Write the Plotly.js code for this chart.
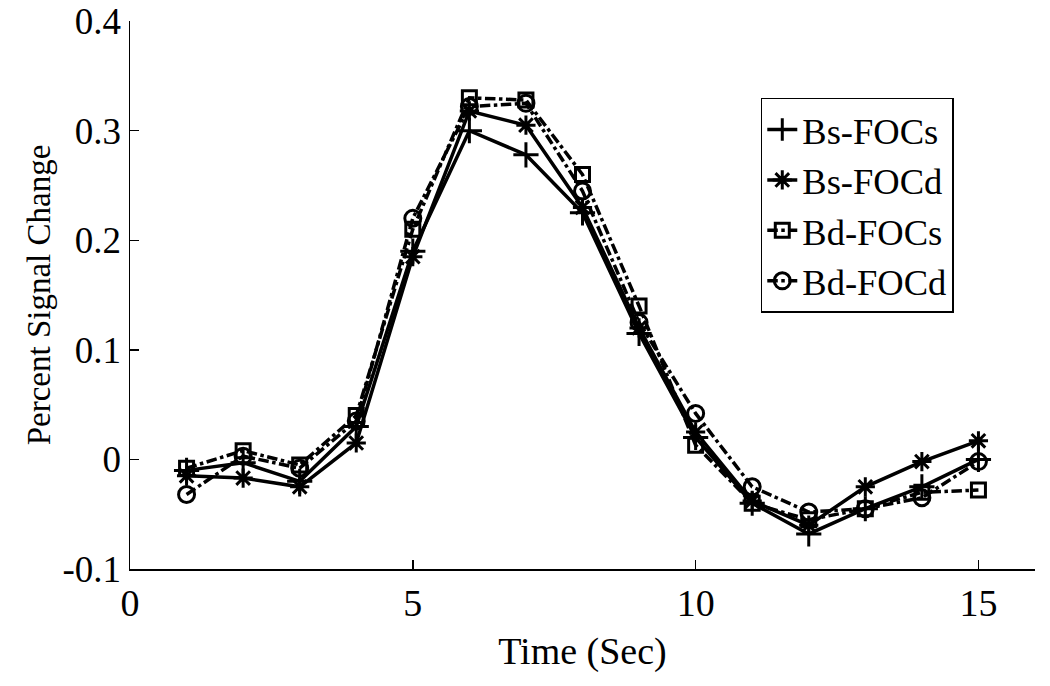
<!DOCTYPE html>
<html><head><meta charset="utf-8">
<script src="https://cdn.plot.ly/plotly-3.0.1.min.js"></script>
<style>html,body{margin:0;padding:0;background:#fff}#c{width:1050px;height:686px}</style>
</head><body><div id="c"></div>
<script>
const time = [1,2,3,4,5,6,7,8,9,10,11,12,13,14,15];
const bsFOCs = [-0.010,-0.003,-0.020,0.030,0.190,0.300,0.278,0.225,0.115,0.020,-0.040,-0.068,-0.045,-0.025,0.000];
const bsFOCd = [-0.015,-0.017,-0.025,0.015,0.185,0.318,0.305,0.230,0.120,0.025,-0.038,-0.060,-0.025,-0.002,0.017];
const bdFOCs = [-0.008,0.008,-0.005,0.040,0.210,0.330,0.328,0.260,0.140,0.013,-0.040,-0.055,-0.045,-0.030,-0.028];
const bdFOCd = [-0.032,0.003,-0.008,0.035,0.220,0.322,0.325,0.245,0.125,0.042,-0.025,-0.048,-0.045,-0.035,-0.002];
const seriesNames = ['Bs-FOCs','Bs-FOCd','Bd-FOCs','Bd-FOCd'];
const yTickVals = [-0.1,0,0.1,0.2,0.3,0.4];
const yTickText = ['-0.1','0','0.1','0.2','0.3','0.4'];
const xTickVals = [0,5,10,15];

const font = 'Liberation Serif, Times New Roman, serif';
function tr(y, name, sym, dash, size){
  return {x: time, y: y, name: name, type:'scatter', mode:'lines+markers',
    line:{color:'#000', width:3.5, dash: dash},
    marker:{symbol: sym, size: size, color:'#000', line:{color:'#000', width:3}}};
}
const data = [
  tr(bsFOCs, seriesNames[0], 'cross-thin-open', 'solid', 18),
  tr(bsFOCd, seriesNames[1], 'asterisk-open', 'solid', 16),
  tr(bdFOCs, seriesNames[2], 'square-open', 'dashdot', 14),
  tr(bdFOCd, seriesNames[3], 'circle-open', 'dashdot', 16)
];
const layout = {
  width:1050, height:686,
  margin:{l:130, r:15, t:21, b:117},
  paper_bgcolor:'#fff', plot_bgcolor:'#fff',
  font:{family:font, color:'#000', size:38},
  showlegend:true,
  legend:{x:0.697, y:0.86, xanchor:'left', yanchor:'top', bgcolor:'#fff',
    bordercolor:'#000', borderwidth:1.5, font:{family:font, size:36.5}, tracegroupgap:0, itemwidth:30},
  xaxis:{range:[0,16], tickvals:xTickVals, ticks:'inside', ticklen:9, tickwidth:1.5, tickcolor:'#000',
    showline:true, linecolor:'#000', linewidth:1.5, showgrid:false, zeroline:false, mirror:false,
    ticklabeloverflow:'allow',
    tickfont:{family:font, size:38}, title:{text:'Time (Sec)', font:{family:font, size:38}, standoff:14}},
  yaxis:{range:[-0.1,0.4001], tickvals:yTickVals, ticktext:yTickText, ticks:'inside', ticklen:9, tickwidth:1.5, tickcolor:'#000',
    showline:true, linecolor:'#000', linewidth:1.5, showgrid:false, zeroline:false, mirror:false,
    ticklabeloverflow:'allow',
    tickfont:{family:font, size:37}, title:{text:'Percent Signal Change', font:{family:font, size:33}, standoff:2}}
};
Plotly.newPlot('c', data, layout, {displayModeBar:false, staticPlot:true});
</script></body></html>
